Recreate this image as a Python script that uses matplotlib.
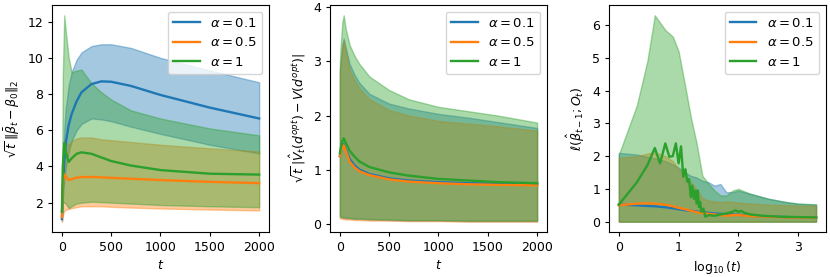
import numpy as np
import matplotlib
matplotlib.use("Agg")
import matplotlib.pyplot as plt
from matplotlib.ticker import MultipleLocator

plt.rcParams["font.size"] = 9
plt.rcParams["xtick.major.size"] = 3.2
plt.rcParams["ytick.major.size"] = 3.2
plt.rcParams["xtick.major.pad"] = 3.2
plt.rcParams["ytick.major.pad"] = 3.2
plt.rcParams["axes.labelpad"] = 3.6

labels = [r"$\alpha = 0.1$", r"$\alpha = 0.5$", r"$\alpha = 1$"]
colors = ["tab:blue", "tab:orange", "tab:green"]

# panel 1: sqrt(t) * ||beta_bar_t - beta_0||_2
p1_t = [1, 10, 25, 40, 70, 100, 150, 200, 300, 400, 500, 700, 1000, 1500, 2000]
p1_blue_mean = [1.1, 2.8, 4.3, 5.3, 6.3, 6.9, 7.6, 8.1, 8.55, 8.7, 8.68, 8.45, 7.95, 7.25, 6.65]
p1_blue_up = [1.2, 4.0, 6.0, 7.2, 8.5, 9.2, 9.9, 10.3, 10.65, 10.75, 10.75, 10.55, 10.0, 9.3, 8.65]
p1_blue_lo = [1.0, 2.2, 3.2, 3.9, 4.8, 5.4, 6.0, 6.35, 6.65, 6.6, 6.5, 6.2, 5.8, 5.2, 4.72]
p1_orange_mean = [1.2, 3.0, 3.55, 3.45, 3.25, 3.3, 3.38, 3.41, 3.42, 3.4, 3.37, 3.32, 3.25, 3.15, 3.08]
p1_orange_up = [1.3, 4.2, 5.5, 5.35, 5.2, 5.4, 5.55, 5.6, 5.6, 5.5, 5.45, 5.35, 5.2, 5.0, 4.83]
p1_orange_lo = [0.95, 1.3, 1.55, 1.6, 1.65, 1.7, 1.75, 1.8, 1.8, 1.8, 1.77, 1.73, 1.68, 1.62, 1.57]
p1_green_mean = [1.5, 4.0, 5.3, 4.8, 4.25, 4.45, 4.7, 4.78, 4.7, 4.5, 4.3, 4.05, 3.8, 3.6, 3.55]
p1_green_up = [1.7, 9.0, 12.35, 11.5, 10.0, 9.2, 9.3, 9.35, 8.6, 8.1, 7.7, 7.1, 6.65, 6.1, 5.72]
p1_green_lo = [1.3, 2.0, 2.0, 1.95, 1.7, 1.8, 1.95, 2.0, 2.05, 2.03, 2.0, 1.95, 1.87, 1.8, 1.75]

# panel 2: sqrt(t) * |V_hat_t(d_opt) - V(d_opt)|
p2_t = [1, 10, 25, 40, 60, 100, 150, 200, 300, 500, 700, 1000, 1300, 1600, 2000]
p2_blue_mean = [1.25, 1.3, 1.42, 1.47, 1.38, 1.2, 1.08, 1.0, 0.92, 0.84, 0.8, 0.77, 0.75, 0.74, 0.73]
p2_blue_up = [2.85, 3.0, 3.3, 3.42, 3.25, 2.95, 2.75, 2.6, 2.4, 2.22, 2.13, 2.03, 1.96, 1.88, 1.77]
p2_blue_lo = [0.12, 0.12, 0.11, 0.11, 0.1, 0.1, 0.09, 0.09, 0.08, 0.07, 0.06, 0.06, 0.05, 0.05, 0.05]
p2_orange_mean = [1.25, 1.3, 1.4, 1.45, 1.35, 1.15, 1.04, 0.97, 0.9, 0.82, 0.78, 0.75, 0.73, 0.72, 0.71]
p2_orange_up = [2.8, 2.95, 3.25, 3.38, 3.2, 2.85, 2.65, 2.5, 2.3, 2.1, 2.0, 1.9, 1.85, 1.8, 1.72]
p2_orange_lo = [0.1, 0.1, 0.09, 0.09, 0.08, 0.08, 0.07, 0.07, 0.06, 0.06, 0.05, 0.05, 0.04, 0.04, 0.04]
p2_green_mean = [1.3, 1.4, 1.52, 1.58, 1.5, 1.35, 1.24, 1.15, 1.05, 0.95, 0.89, 0.83, 0.8, 0.77, 0.75]
p2_green_up = [3.0, 3.3, 3.7, 3.85, 3.6, 3.3, 3.1, 2.95, 2.72, 2.47, 2.3, 2.16, 2.08, 2.0, 1.87]
p2_green_lo = [0.15, 0.14, 0.13, 0.12, 0.12, 0.11, 0.1, 0.1, 0.09, 0.08, 0.07, 0.07, 0.06, 0.06, 0.06]

# panel 3: loss vs log10(t)
p3_logt = [0, 0.301, 0.477, 0.602, 0.778, 0.903, 1.0, 1.114, 1.204, 1.301, 1.398, 1.505,
           1.602, 1.699, 1.799, 1.903, 2.0, 2.204, 2.505, 2.799, 3.0, 3.301]
p3_lo = [0.0] * 22
p3_blue_mean = [0.52, 0.5, 0.48, 0.47, 0.44, 0.41, 0.38, 0.35, 0.33, 0.31, 0.29, 0.27,
                0.25, 0.24, 0.23, 0.22, 0.21, 0.18, 0.16, 0.14, 0.135, 0.13]
p3_blue_up = [2.1, 2.05, 1.98, 1.93, 1.85, 1.75, 1.65, 1.5, 1.4, 1.35, 1.25, 1.2,
              1.1, 1.15, 0.9, 0.9, 0.95, 0.85, 0.7, 0.6, 0.55, 0.52]
p3_orange_mean = [0.5, 0.55, 0.56, 0.55, 0.52, 0.47, 0.42, 0.38, 0.33, 0.29, 0.26, 0.24,
                  0.22, 0.2, 0.18, 0.2, 0.2, 0.17, 0.15, 0.13, 0.125, 0.12]
p3_orange_up = [1.95, 2.0, 2.08, 2.12, 2.0, 1.85, 1.6, 1.4, 1.2, 1.0, 0.72, 0.64,
                0.62, 0.6, 0.62, 0.6, 0.58, 0.55, 0.52, 0.5, 0.49, 0.48]
p3_green_up = [2.05, 3.55, 4.9, 6.3, 5.85, 5.65, 5.2, 4.1, 3.2, 2.4, 1.4, 1.15,
               0.95, 0.8, 0.8, 0.95, 1.0, 0.85, 0.7, 0.6, 0.55, 0.53]
p3_green_mean_x = [0, 0.301, 0.477, 0.602, 0.69, 0.778, 0.845, 0.903, 0.954, 1.0, 1.041,
                   1.079, 1.114, 1.146, 1.176, 1.204, 1.23, 1.255, 1.279, 1.301, 1.322,
                   1.342, 1.362, 1.38, 1.415, 1.447, 1.5, 1.6, 1.7, 1.8, 1.9, 1.95, 2.0,
                   2.05, 2.1, 2.2, 2.4, 2.7, 3.0, 3.301]
p3_green_mean = [0.52, 1.2, 1.72, 2.25, 1.78, 2.39, 1.98, 2.0, 2.39, 1.78, 2.3,
                 1.37, 1.6, 1.22, 1.3, 0.75, 1.1, 0.7, 0.95, 0.55, 0.95,
                 0.45, 0.6, 0.3, 0.4, 0.15, 0.2, 0.18, 0.22, 0.25, 0.3, 0.35, 0.3,
                 0.33, 0.27, 0.22, 0.18, 0.15, 0.14, 0.13]

fig = plt.figure(figsize=(8.3, 2.77), dpi=100)
ax1 = fig.add_axes([0.0627, 0.1625, 0.2614, 0.8195])
ax2 = fig.add_axes([0.3976, 0.1625, 0.2614, 0.8195])
ax3 = fig.add_axes([0.7337, 0.1625, 0.2614, 0.8195])

p1 = [(p1_blue_mean, p1_blue_lo, p1_blue_up),
      (p1_orange_mean, p1_orange_lo, p1_orange_up),
      (p1_green_mean, p1_green_lo, p1_green_up)]
for (m, lo, up), c, lab in zip(p1, colors, labels):
    ax1.plot(p1_t, m, color=c, label=lab, lw=1.7)
    ax1.fill_between(p1_t, lo, up, color=c, alpha=0.4)
ax1.set_xlabel(r"$t$")
ax1.set_ylabel(r"$\sqrt{t}\,\|\bar{\beta}_t - \beta_0\|_2$")
ax1.legend(loc="upper right", fontsize=9.5)

p2 = [(p2_blue_mean, p2_blue_lo, p2_blue_up),
      (p2_orange_mean, p2_orange_lo, p2_orange_up),
      (p2_green_mean, p2_green_lo, p2_green_up)]
for (m, lo, up), c, lab in zip(p2, colors, labels):
    ax2.plot(p2_t, m, color=c, label=lab, lw=1.7)
    ax2.fill_between(p2_t, lo, up, color=c, alpha=0.4)
ax2.yaxis.set_major_locator(MultipleLocator(1))
ax2.set_xlabel(r"$t$")
ax2.set_ylabel(r"$\sqrt{t}\,|\hat{V}_t(d^{opt}) - V(d^{opt})|$")
ax2.legend(loc="upper right", fontsize=9.5)

ax3.plot(p3_logt, p3_blue_mean, color=colors[0], label=labels[0], lw=1.7)
ax3.fill_between(p3_logt, p3_lo, p3_blue_up, color=colors[0], alpha=0.4)
ax3.plot(p3_logt, p3_orange_mean, color=colors[1], label=labels[1], lw=1.7)
ax3.fill_between(p3_logt, p3_lo, p3_orange_up, color=colors[1], alpha=0.4)
ax3.plot(p3_green_mean_x, p3_green_mean, color=colors[2], label=labels[2], lw=1.7)
ax3.fill_between(p3_logt, p3_lo, p3_green_up, color=colors[2], alpha=0.4)
ax3.set_xlabel(r"$\log_{10}(t)$")
ax3.set_ylabel(r"$\ell(\hat{\beta}_{t-1}; O_t)$")
ax3.legend(loc="upper right", fontsize=9.5)

fig.savefig("out.png", dpi=100)
